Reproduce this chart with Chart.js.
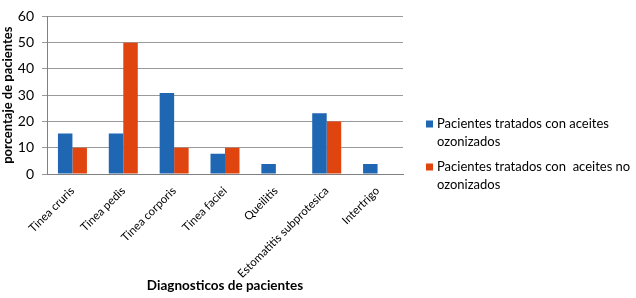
<!DOCTYPE html>
<html><head><meta charset="utf-8">
<script src="https://cdn.jsdelivr.net/npm/chart.js@4/dist/chart.umd.min.js"></script>
<style>html,body{margin:0;padding:0;background:#fff}#wrap{width:636px;height:298px}</style>
</head><body><div id="wrap"><canvas id="c" width="636" height="298"></canvas></div>
<script>
const categories = ["Tinea cruris","Tinea pedis","Tinea corporis","Tinea faciei","Queilitis","Estomatitis subprotesica","Intertrigo"];
const ozonizados = [15.4, 15.4, 30.8, 7.7, 3.8, 23.1, 3.8];
const noOzonizados = [10, 50, 10, 10, 0, 20, 0];
const seriesNames = [["Pacientes tratados con aceites","ozonizados"],["Pacientes tratados con  aceites no","ozonizados"]];
const colors = ["#1f66b3", "#e0450f"];
const FONT = "Lato, 'Open Sans', sans-serif";

const legendPlugin = {
  id: 'sideLegend',
  afterDraw(chart) {
    const ctx = chart.ctx;
    const x0 = chart.chartArea.right + 23;
    const ys = [124, 167];
    ctx.save();
    ctx.font = "13px " + FONT;
    ctx.textBaseline = 'middle';
    seriesNames.forEach((lines, i) => {
      ctx.fillStyle = colors[i];
      ctx.fillRect(x0, ys[i] - 3.5, 7, 7);
      ctx.fillStyle = '#000';
      lines.forEach((t, j) => ctx.fillText(t, x0 + 11, ys[i] + j * 17.5));
    });
    ctx.restore();
  }
};

new Chart(document.getElementById('c'), {
  type: 'bar',
  data: {
    labels: categories,
    datasets: [
      { label: seriesNames[0].join(' '), data: ozonizados, backgroundColor: colors[0] },
      { label: seriesNames[1].join(' '), data: noOzonizados, backgroundColor: colors[1] }
    ]
  },
  options: {
    responsive: false,
    animation: false,
    layout: { padding: { top: -5, right: 233, left: 0, bottom: 0 } },
    plugins: { legend: { display: false }, tooltip: { enabled: false } },
    datasets: { bar: { categoryPercentage: 0.57, barPercentage: 1 } },
    scales: {
      x: {
        afterFit(scale) { scale.height = 124; },
        grid: { display: false, drawTicks: false },
        border: { color: '#808080' },
        ticks: { font: { family: FONT, size: 11.5 }, color: '#000', minRotation: 45, maxRotation: 45, padding: 10, autoSkip: false },
        title: { display: true, text: 'Diagnosticos de pacientes', font: { family: FONT, size: 13.5, weight: 'bold' }, color: '#000', padding: { top: 0, bottom: 4 } }
      },
      y: {
        afterFit(scale) { scale.width = 47; },
        min: 0, max: 60,
        ticks: { stepSize: 10, font: { family: FONT, size: 14 }, color: '#000', padding: 8 },
        grid: { color: '#9a9a9a', tickLength: 5 },
        border: { color: '#808080' },
        title: { display: true, text: 'porcentaje de pacientes', font: { family: FONT, size: 13, weight: 'bold' }, color: '#000', padding: 0 }
      }
    }
  },
  plugins: [legendPlugin]
});
</script></body></html>
